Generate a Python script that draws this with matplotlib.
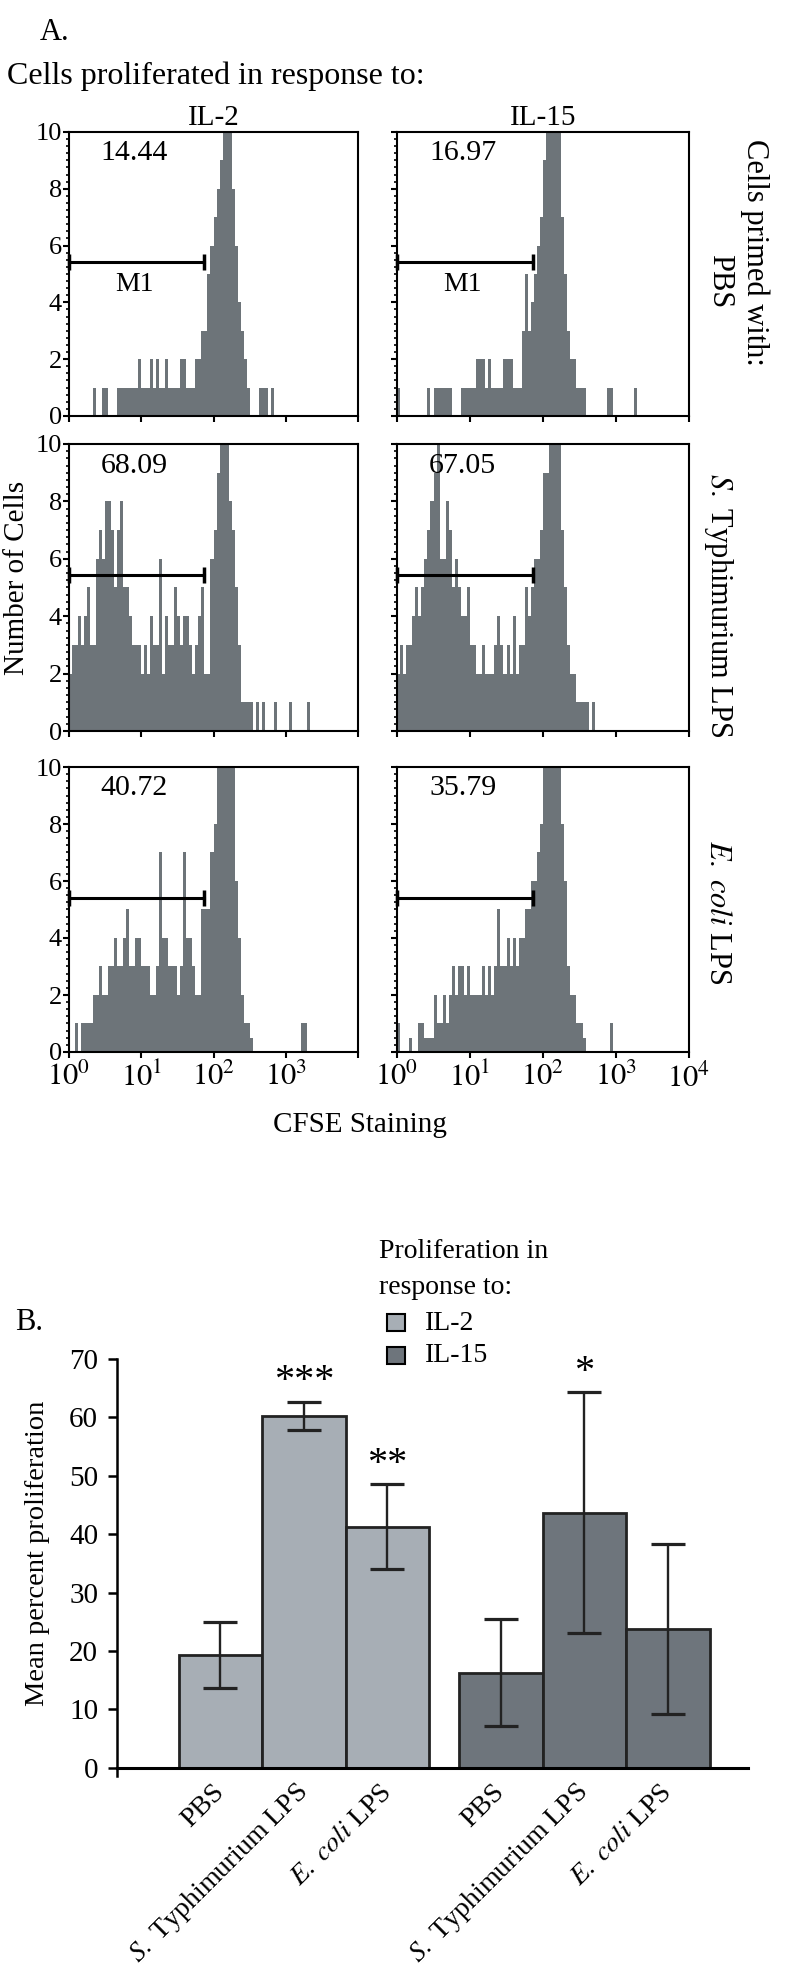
import numpy as np
import matplotlib.pyplot as plt
from matplotlib.patches import Rectangle
from matplotlib.ticker import MultipleLocator, FixedLocator, FixedFormatter, LogLocator, NullFormatter

plt.rcParams['font.family'] = ['Liberation Serif', 'DejaVu Serif']
plt.rcParams['mathtext.fontset'] = 'stix'

# ---------------- Panel A: CFSE histograms ----------------
# counts per channel, 24 channels per decade starting at 10^0
bins_per_decade = 24
n_bins = 84

pbs_il2 = [0, 0, 0, 0, 0, 0, 0, 0, 1, 0, 0, 1, 1, 0, 0, 0,
           1, 1, 1, 1, 1, 1, 1, 2, 1, 1, 1, 2, 1, 2, 1, 1,
           2, 1, 1, 1, 1, 2, 2, 1, 1, 1, 2, 2, 3, 3, 5, 6,
           7, 8, 9, 11, 12, 11, 8, 6, 4, 3, 2, 1, 0, 0, 0, 1,
           1, 1, 0, 1]
pbs_il15 = [1, 0, 0, 0, 0, 0, 0, 0, 0, 0, 1, 0, 1, 1, 1, 1,
            1, 1, 0, 0, 0, 1, 1, 1, 1, 1, 2, 2, 2, 1, 2, 1,
            1, 1, 1, 2, 2, 2, 1, 1, 1, 3, 5, 3, 4, 5, 6, 7,
            9, 11, 12, 13, 12, 10, 7, 5, 3, 2, 2, 1, 1, 1, 0, 0,
            0, 0, 0, 0, 0, 1, 1, 0, 0, 0, 0, 0, 0, 0, 1]
styph_il2 = [2, 3, 3, 4, 3, 4, 5, 3, 3, 6, 7, 6, 8, 8, 7, 5,
             7, 8, 5, 5, 4, 3, 3, 3, 2, 3, 2, 4, 3, 3, 6, 2,
             4, 3, 3, 5, 4, 3, 4, 4, 3, 2, 3, 4, 5, 2, 2, 6,
             7, 9, 11, 12, 10, 8, 7, 5, 3, 1, 1, 1, 1, 0, 1, 0,
             1, 0, 0, 0, 1, 0, 0, 0, 0, 1, 0, 0, 0, 0, 0, 1]
styph_il15 = [2, 3, 2, 3, 3, 4, 5, 4, 5, 6, 7, 8, 9, 10, 6, 6,
              8, 7, 5, 6, 5, 4, 4, 5, 3, 3, 2, 2, 3, 2, 2, 2,
              3, 4, 3, 2, 3, 2, 4, 2, 3, 3, 5, 4, 5, 6, 6, 7,
              9, 9, 10, 11, 12, 12, 7, 5, 3, 2, 2, 1, 1, 1, 1, 0,
              1]
ecoli_il2 = [0, 0, 1, 0, 1, 1, 1, 1, 2, 2, 3, 2, 2, 3, 3, 4,
             3, 3, 4, 5, 3, 3, 4, 4, 3, 3, 3, 2, 2, 3, 7, 4,
             4, 3, 3, 3, 2, 3, 7, 4, 4, 3, 2, 2, 5, 5, 5, 7,
             8, 10, 12, 12, 12, 11, 10, 6, 4, 2, 1, 1, 0.5, 0, 0, 0,
             0, 0, 0, 0, 0, 0, 0, 0, 0, 0, 0, 0, 0, 1, 1]
ecoli_il15 = [1, 0, 0, 0, 0.5, 0, 0, 1, 1, 0.5, 0.5, 0.5, 2, 1, 1, 2,
              1, 2, 3, 2, 3, 3, 2, 3, 2, 2, 2, 2, 3, 2, 3, 2,
              3, 5, 3, 3, 4, 3, 4, 3, 4, 4, 5, 5, 6, 6, 7, 8,
              10, 12, 12, 12, 11, 10, 8, 6, 3, 2, 2, 1, 1, 0.5, 0, 0,
              0, 0, 0, 0, 0, 0, 1]

hist_counts = [[pbs_il2, pbs_il15],
               [styph_il2, styph_il15],
               [ecoli_il2, ecoli_il15]]
gate_pct = [[14.44, 16.97],
            [68.09, 67.05],
            [40.72, 35.79]]
gate_hi = 74      # M1 upper bound (channel value)
gate_y = 5.42

stim_labels = ['IL-2', 'IL-15']
prime_labels = [r'$\mathit{S.}$ Typhimurium LPS', r'$\mathit{E.\ coli}$ LPS']

# ---------------- Panel B: mean percent proliferation ----------------
groups = ['IL-2', 'IL-15']
conditions = ['PBS', r'$\mathit{S.}$ Typhimurium LPS', r'$\mathit{E.\ coli}$ LPS']
mean_il2 = [19.3, 60.3, 41.3]
err_il2 = [5.7, 2.4, 7.3]
mean_il15 = [16.3, 43.7, 23.8]
err_il15 = [9.1, 20.6, 14.5]
stars_il2 = ['', '***', '**']
stars_il15 = ['', '*', '']

hist_color = '#6d7479'
il2_color = '#a7aeb5'
il15_color = '#6e757c'

W, H = 800, 1985
fig = plt.figure(figsize=(W / 100, H / 100), dpi=100)


def fx(px):
    return px / W


def fy(py):
    return 1 - py / H


def px_axes(l, t, r, b):
    return fig.add_axes([fx(l), fy(b), (r - l) / W, (b - t) / H])


cols = [(69, 358), (397, 689)]
rows = [(132, 416), (444, 731), (767, 1052)]
edges = 10 ** (np.arange(n_bins + 1) / bins_per_decade)

for i, (t, b) in enumerate(rows):
    for j, (l, r) in enumerate(cols):
        ax = px_axes(l, t, r, b)
        vals = np.zeros(n_bins)
        c = hist_counts[i][j]
        vals[:len(c)] = c
        ax.stairs(vals, edges, fill=True, color=hist_color, lw=0)
        ax.set_xscale('log')
        ax.set_xlim(1, 1e4)
        ax.set_ylim(0, 10)
        for s in ax.spines.values():
            s.set_linewidth(1.5)
        ax.yaxis.set_major_locator(MultipleLocator(2))
        ax.yaxis.set_minor_locator(MultipleLocator(0.25))
        ax.xaxis.set_major_locator(FixedLocator([1, 10, 100, 1000, 10000]))
        ax.xaxis.set_minor_locator(LogLocator(base=10, subs=np.arange(2, 10)))
        ax.xaxis.set_minor_formatter(NullFormatter())
        xlabels = ['$10^0$', '$10^1$', '$10^2$', '$10^3$', '$10^4$' if j == 1 else '']
        ax.xaxis.set_major_formatter(FixedFormatter(xlabels))
        ax.tick_params(axis='y', which='major', direction='out', length=4, width=1.5,
                       labelsize=19, pad=1)
        ax.tick_params(axis='y', which='minor', direction='out', length=2, width=1.2)
        ax.tick_params(axis='x', which='major', direction='out', length=4, width=1.5,
                       labelsize=22, pad=4)
        ax.tick_params(axis='x', which='minor', direction='out', length=2.5, width=1.2)
        if j == 1:
            ax.tick_params(labelleft=False)
        if i < 2:
            ax.tick_params(labelbottom=False)

        # M1 gate marker
        ax.plot([1, gate_hi], [gate_y, gate_y], color='k', lw=2.2, marker='|',
                ms=11, mew=2.5, clip_on=False, zorder=5)
        ax.text(0.225, 0.925, f'{gate_pct[i][j]:.2f}', transform=ax.transAxes,
                ha='center', va='center', fontsize=21.5)
        if i == 0:
            ax.text(10 ** 0.9, 4.62, 'M1', ha='center', va='center', fontsize=20)
            ax.set_title(stim_labels[j], fontsize=21, pad=5)

fig.text(fx(40), fy(33), 'A.', fontsize=22, ha='left', va='center')
fig.text(fx(7), fy(76), 'Cells proliferated in response to:', fontsize=23,
         ha='left', va='center')
fig.text(fx(17), fy(578), 'Number of Cells', fontsize=21, rotation=90,
         ha='center', va='center')
fig.text(fx(360), fy(1125), 'CFSE Staining', fontsize=21, ha='center', va='center')
fig.text(fx(755), fy(252), 'Cells primed with:', fontsize=22, rotation=-90,
         ha='center', va='center')
fig.text(fx(720), fy(281), 'PBS', fontsize=22, rotation=-90, ha='center', va='center')
fig.text(fx(718), fy(605), prime_labels[0], fontsize=22, rotation=-90,
         ha='center', va='center')
fig.text(fx(718), fy(912), prime_labels[1], fontsize=22, rotation=-90,
         ha='center', va='center')

# ---------------- Panel B ----------------
axb = px_axes(117, 1359, 748, 1776)
x_il2 = np.arange(3) + 1.24
x_il15 = np.arange(3) + 4.6
for xs, means, errs, col, stars in [(x_il2, mean_il2, err_il2, il2_color, stars_il2),
                                    (x_il15, mean_il15, err_il15, il15_color, stars_il15)]:
    axb.bar(xs, means, width=1.0, color=col, edgecolor='#222222', linewidth=2.0,
            yerr=errs, capsize=12,
            error_kw=dict(elinewidth=1.7, capthick=2.3, ecolor='#222222'))
    for xv, m, e, s in zip(xs, means, errs, stars):
        if s:
            axb.text(xv, m + e + 0.2, s, ha='center', va='bottom', fontsize=29)

axb.set_xlim(0, 7.56)
axb.set_ylim(-1.4, 70)
axb.spines['top'].set_visible(False)
axb.spines['right'].set_visible(False)
axb.spines['bottom'].set_position(('data', 0))
axb.spines['bottom'].set_linewidth(2.2)
axb.spines['left'].set_linewidth(1.8)
axb.yaxis.set_major_locator(MultipleLocator(10))
axb.tick_params(axis='y', direction='out', length=6.5, width=1.8, labelsize=21, pad=7)
axb.set_xticks(np.concatenate([x_il2, x_il15]))
axb.set_xticklabels(conditions * 2, rotation=45, ha='right', va='center',
                    rotation_mode='anchor', fontsize=20)
axb.tick_params(axis='x', length=0, pad=15)

fig.text(fx(38), fy(1553), 'Mean percent proliferation', fontsize=20.5, rotation=90,
         ha='center', va='center')
fig.text(fx(15), fy(1323), 'B.', fontsize=22, ha='left', va='center')

# legend
fig.text(fx(379), fy(1252), 'Proliferation in', fontsize=20, ha='left', va='center')
fig.text(fx(379), fy(1287), 'response to:', fontsize=20, ha='left', va='center')
for yc, col, lab in [(1323, il2_color, groups[0]), (1355, il15_color, groups[1])]:
    fig.add_artist(Rectangle((fx(387), fy(yc + 8.5)), 18 / W, 17 / H,
                             transform=fig.transFigure, facecolor=col,
                             edgecolor='k', lw=1.5))
    fig.text(fx(425), fy(yc), lab, fontsize=20, ha='left', va='center')

fig.savefig('out.png', dpi=100)
